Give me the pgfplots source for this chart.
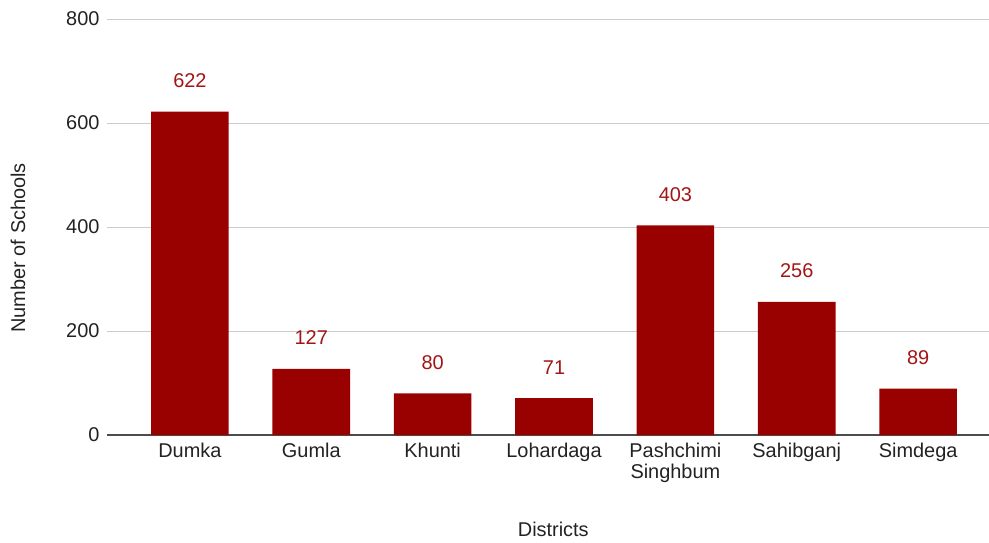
\documentclass[border=0pt]{standalone}
\usepackage{pgfplots}
\pgfplotsset{compat=1.18}
\usepackage{fontspec}
\setmainfont{Liberation Sans}
\definecolor{barred}{HTML}{990000}
\definecolor{valred}{HTML}{A31515}
\definecolor{txt}{HTML}{222222}
\definecolor{gridc}{HTML}{CCCCCC}
\begin{document}
\begin{tikzpicture}
\begin{axis}[
  at={(0,0)}, anchor=south west,
  scale only axis,
  width=882bp, height=416bp,
  xmin=-0.683, xmax=6.584,
  ymin=0, ymax=800,
  ytick={0,200,400,600,800},
  xtick={0,1,2,3,4,5,6},
  xticklabels={Dumka,Gumla,Khunti,Lohardaga,{Pashchimi\\Singhbum},Sahibganj,Simdega},
  xticklabel style={align=center, text=txt, font=\fontsize{20}{21}\selectfont, yshift=-5bp},
  yticklabel style={text=txt, font=\fontsize{20}{21}\selectfont, xshift=-4bp},
  /pgf/number format/assume math mode=true,
  major tick length=0pt,
  ymajorgrids, grid style={draw=gridc, line width=1pt},
  axis x line*=bottom,
  axis y line*=left,
  x axis line style={draw=black!70, line width=1.2pt, -},
  y axis line style={draw=none},
  xlabel={Districts}, ylabel={Number of Schools},
  label style={text=txt, font=\fontsize{20}{21}\selectfont},
  xlabel style={at={(axis description cs:0.506,-0.228)}, anchor=center},
  ylabel style={at={(axis description cs:-0.101,0.45)}, anchor=center},
  ybar, bar width=0.64, bar shift=0pt,
  nodes near coords,
  nodes near coords style={anchor=base, yshift=24bp, text=valred, font=\fontsize{20}{21}\selectfont},
  clip=false,
]
\addplot[fill=barred, draw=none] coordinates {(0,622) (1,127) (2,80) (3,71) (4,403) (5,256) (6,89)};
\end{axis}
\pgfresetboundingbox
\path[use as bounding box] (-107bp,-108bp) rectangle (882bp,435bp);
\end{tikzpicture}
\end{document}
